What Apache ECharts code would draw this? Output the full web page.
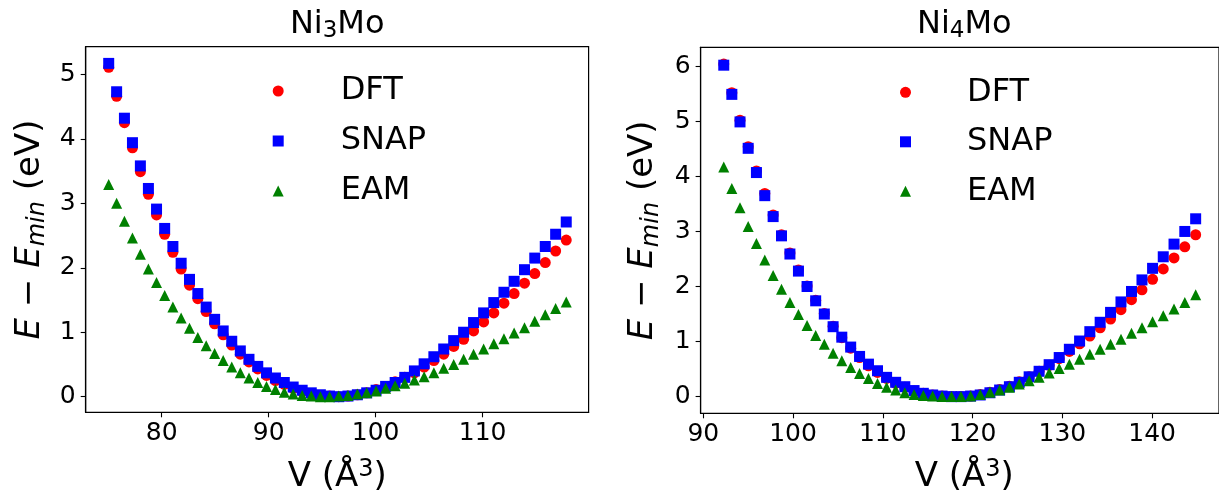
<!DOCTYPE html>
<html><head><meta charset="utf-8">
<script src="https://cdn.jsdelivr.net/npm/echarts@6/dist/echarts.min.js"></script>
<style>html,body{margin:0;padding:0;background:#fff}#c{width:1219px;height:494px}</style>
</head><body><div id="c"></div>
<script>
// ---------- data: Ni3Mo ----------
const V_Ni3Mo = [75.05, 75.79, 76.52, 77.27, 78.01, 78.76, 79.52, 80.28, 81.05, 81.82, 82.60, 83.38, 84.16, 84.95, 85.75, 86.55, 87.35, 88.16, 88.98, 89.80, 90.63, 91.46, 92.29, 93.13, 93.98, 94.83, 95.69, 96.55, 97.41, 98.29, 99.16, 100.04, 100.93, 101.82, 102.72, 103.62, 104.53, 105.44, 106.36, 107.29, 108.22, 109.15, 110.09, 111.04, 111.99, 112.94, 113.91, 114.87, 115.85, 116.82, 117.81];
const DFT_Ni3Mo = [5.11, 4.66, 4.25, 3.86, 3.49, 3.14, 2.82, 2.52, 2.24, 1.98, 1.73, 1.52, 1.32, 1.13, 0.96, 0.80, 0.66, 0.54, 0.43, 0.33, 0.25, 0.19, 0.13, 0.08, 0.05, 0.02, 0.01, 0.00, 0.01, 0.03, 0.06, 0.11, 0.16, 0.23, 0.30, 0.37, 0.46, 0.56, 0.66, 0.78, 0.89, 1.02, 1.16, 1.30, 1.45, 1.60, 1.76, 1.91, 2.08, 2.26, 2.43];
const SNAP_Ni3Mo = [5.17, 4.73, 4.32, 3.94, 3.58, 3.23, 2.91, 2.61, 2.33, 2.07, 1.82, 1.60, 1.39, 1.20, 1.02, 0.86, 0.71, 0.58, 0.47, 0.37, 0.29, 0.22, 0.15, 0.10, 0.06, 0.03, 0.01, 0.00, 0.01, 0.03, 0.06, 0.10, 0.16, 0.22, 0.30, 0.40, 0.51, 0.62, 0.74, 0.87, 1.00, 1.15, 1.30, 1.46, 1.62, 1.79, 1.97, 2.15, 2.33, 2.52, 2.71];
const EAM_Ni3Mo = [3.29, 3.00, 2.72, 2.46, 2.21, 1.98, 1.77, 1.57, 1.39, 1.22, 1.06, 0.92, 0.79, 0.67, 0.56, 0.46, 0.37, 0.29, 0.22, 0.16, 0.11, 0.07, 0.04, 0.02, 0.01, 0.00, 0.00, 0.01, 0.02, 0.04, 0.06, 0.09, 0.13, 0.17, 0.21, 0.26, 0.31, 0.37, 0.44, 0.50, 0.58, 0.66, 0.74, 0.82, 0.90, 0.99, 1.07, 1.17, 1.27, 1.37, 1.47];
// ---------- data: Ni4Mo ----------
const V_Ni4Mo = [92.28, 93.18, 94.09, 95.00, 95.92, 96.85, 97.78, 98.71, 99.65, 100.60, 101.56, 102.52, 103.48, 104.46, 105.43, 106.42, 107.41, 108.40, 109.41, 110.42, 111.43, 112.45, 113.48, 114.51, 115.55, 116.60, 117.65, 118.71, 119.78, 120.85, 121.93, 123.01, 124.10, 125.20, 126.30, 127.41, 128.53, 129.65, 130.78, 131.92, 133.06, 134.21, 135.37, 136.53, 137.70, 138.87, 140.05, 141.24, 142.44, 143.64, 144.85];
const DFT_Ni4Mo = [6.04, 5.52, 5.02, 4.54, 4.10, 3.69, 3.30, 2.94, 2.61, 2.30, 2.01, 1.75, 1.51, 1.28, 1.07, 0.88, 0.71, 0.56, 0.44, 0.33, 0.24, 0.17, 0.10, 0.06, 0.03, 0.01, 0.00, 0.00, 0.01, 0.04, 0.08, 0.13, 0.19, 0.27, 0.36, 0.46, 0.57, 0.69, 0.82, 0.96, 1.10, 1.25, 1.41, 1.58, 1.76, 1.94, 2.13, 2.32, 2.52, 2.72, 2.94];
const SNAP_Ni4Mo = [6.02, 5.49, 4.99, 4.51, 4.07, 3.65, 3.27, 2.92, 2.59, 2.28, 2.00, 1.74, 1.50, 1.27, 1.08, 0.90, 0.73, 0.59, 0.47, 0.35, 0.26, 0.18, 0.11, 0.06, 0.03, 0.01, 0.00, 0.00, 0.01, 0.03, 0.07, 0.12, 0.18, 0.26, 0.36, 0.46, 0.58, 0.71, 0.86, 1.01, 1.18, 1.35, 1.53, 1.72, 1.91, 2.12, 2.33, 2.54, 2.77, 3.00, 3.23];
const EAM_Ni4Mo = [4.17, 3.78, 3.43, 3.09, 2.78, 2.48, 2.20, 1.95, 1.71, 1.49, 1.29, 1.11, 0.95, 0.79, 0.65, 0.53, 0.42, 0.33, 0.24, 0.17, 0.12, 0.07, 0.04, 0.02, 0.01, 0.00, 0.00, 0.00, 0.01, 0.04, 0.08, 0.12, 0.17, 0.23, 0.29, 0.35, 0.43, 0.51, 0.59, 0.68, 0.77, 0.86, 0.95, 1.04, 1.15, 1.25, 1.36, 1.47, 1.59, 1.71, 1.85];
// ---------- ticks ----------
const xTicks_Ni3Mo = [80, 90, 100, 110];
const yTicks_Ni3Mo = [0, 1, 2, 3, 4, 5];
const xTicks_Ni4Mo = [90, 100, 110, 120, 130, 140];
const yTicks_Ni4Mo = [0, 1, 2, 3, 4, 5, 6];
const seriesNames = ['DFT', 'SNAP', 'EAM'];

const FONT = 'DejaVu Sans';
const chart = echarts.init(document.getElementById('c'), null, {renderer: 'canvas'});
const zip = (xs, ys) => xs.map((x, i) => [x, ys[i]]);

function xAxis(gi, min, max, ticks) {
  return {
    type: 'value', gridIndex: gi, min: min, max: max,
    axisLine: {show: true, onZero: false, lineStyle: {color: '#000', width: 1.2}},
    axisTick: {show: true, length: 5, lineStyle: {color: '#000', width: 1.1}, customValues: ticks},
    axisLabel: {show: true, customValues: ticks, margin: 9, color: '#000', fontSize: 25, fontFamily: FONT},
    splitLine: {show: false}
  };
}
function yAxis(gi, min, max, ticks) {
  return {
    type: 'value', gridIndex: gi, min: min, max: max,
    axisLine: {show: true, onZero: false, lineStyle: {color: '#000', width: 1.2}},
    axisTick: {show: true, length: 5, lineStyle: {color: '#000', width: 1.1}, customValues: ticks},
    axisLabel: {show: true, customValues: ticks, margin: 10, color: '#000', fontSize: 25, fontFamily: FONT},
    splitLine: {show: false}
  };
}
const styles = {
  DFT: {symbol: 'circle', size: 11, color: '#ff0000'},
  SNAP: {symbol: 'rect', size: 11, color: '#0000ff'},
  EAM: {symbol: 'triangle', size: 11, color: '#008000'}
};
function sc(name, gi, xs, ys) {
  const s = styles[name];
  return {
    type: 'scatter', name: name, xAxisIndex: gi, yAxisIndex: gi,
    data: zip(xs, ys), symbol: s.symbol, symbolSize: s.size,
    itemStyle: {color: s.color, opacity: 1}, silent: true
  };
}
const richMain = {
  n: {fontFamily: FONT, fontSize: 34, color: '#000', lineHeight: 40},
  i: {fontFamily: FONT, fontSize: 34, fontStyle: 'italic', color: '#000', lineHeight: 40},
  s: {fontFamily: FONT, fontSize: 24, fontStyle: 'italic', color: '#000', lineHeight: 20, verticalAlign: 'bottom'},
  p: {fontFamily: FONT, fontSize: 24, color: '#000', lineHeight: 30, verticalAlign: 'top'}
};
const richTitle = {
  n: {fontFamily: FONT, fontSize: 32, color: '#000', lineHeight: 36},
  s: {fontFamily: FONT, fontSize: 23, color: '#000', lineHeight: 18, verticalAlign: 'bottom'}
};
const yName = '{i|E}{n| − }{i|E}{s|min}{n| (eV)}';
const xName = '{n|V (Å}{p|3}{n|)}';
function txt(x, y, text, rich, rot) {
  return {type: 'text', x: x, y: y, rotation: rot || 0, silent: true,
    style: {text: text, rich: rich, align: 'center', verticalAlign: 'middle', fill: '#000'}};
}
function legend(left, top, pad, gap) {
  return {
    left: left, top: top, orient: 'vertical', padding: 0, itemGap: gap,
    itemWidth: 11, itemHeight: 11, selectedMode: false, data: seriesNames,
    formatter: '{t|{name}}',
    textStyle: {fontFamily: FONT, fontSize: 32, color: '#000', lineHeight: 40,
      rich: {t: {fontFamily: FONT, fontSize: 32, color: '#000', lineHeight: 40, padding: [0, 0, 0, pad]}}}
  };
}

const option = {
  animation: false,
  backgroundColor: '#fff',
  grid: [
    {left: 85.7, top: 46.7, width: 502.9, height: 365.6, show: true, borderColor: '#000', borderWidth: 1.2, backgroundColor: 'transparent'},
    {left: 700.6, top: 47.3, width: 527.3, height: 366, show: true, borderColor: '#000', borderWidth: 1.2, backgroundColor: 'transparent'}
  ],
  xAxis: [xAxis(0, 72.9, 119.9, xTicks_Ni3Mo), xAxis(1, 89.70, 147.45, xTicks_Ni4Mo)],
  yAxis: [yAxis(0, -0.242, 5.429, yTicks_Ni3Mo), yAxis(1, -0.303, 6.345, yTicks_Ni4Mo)],
  legend: [legend(272.7, 71, 52, 10), legend(900, 72.3, 51, 9.5)],
  series: [
    sc('DFT', 0, V_Ni3Mo, DFT_Ni3Mo), sc('SNAP', 0, V_Ni3Mo, SNAP_Ni3Mo), sc('EAM', 0, V_Ni3Mo, EAM_Ni3Mo),
    sc('DFT', 1, V_Ni4Mo, DFT_Ni4Mo), sc('SNAP', 1, V_Ni4Mo, SNAP_Ni4Mo), sc('EAM', 1, V_Ni4Mo, EAM_Ni4Mo)
  ],
  graphic: [
    txt(337.2, 25, '{n|Ni}{s|3}{n|Mo}', richTitle),
    txt(964.3, 25, '{n|Ni}{s|4}{n|Mo}', richTitle),
    txt(337.2, 477.5, xName, richMain),
    txt(964.3, 477.5, xName, richMain),
    txt(30, 229.5, yName, richMain, Math.PI / 2),
    txt(643.5, 230.3, yName, richMain, Math.PI / 2)
  ]
};
chart.setOption(option);
</script>
</body></html>
